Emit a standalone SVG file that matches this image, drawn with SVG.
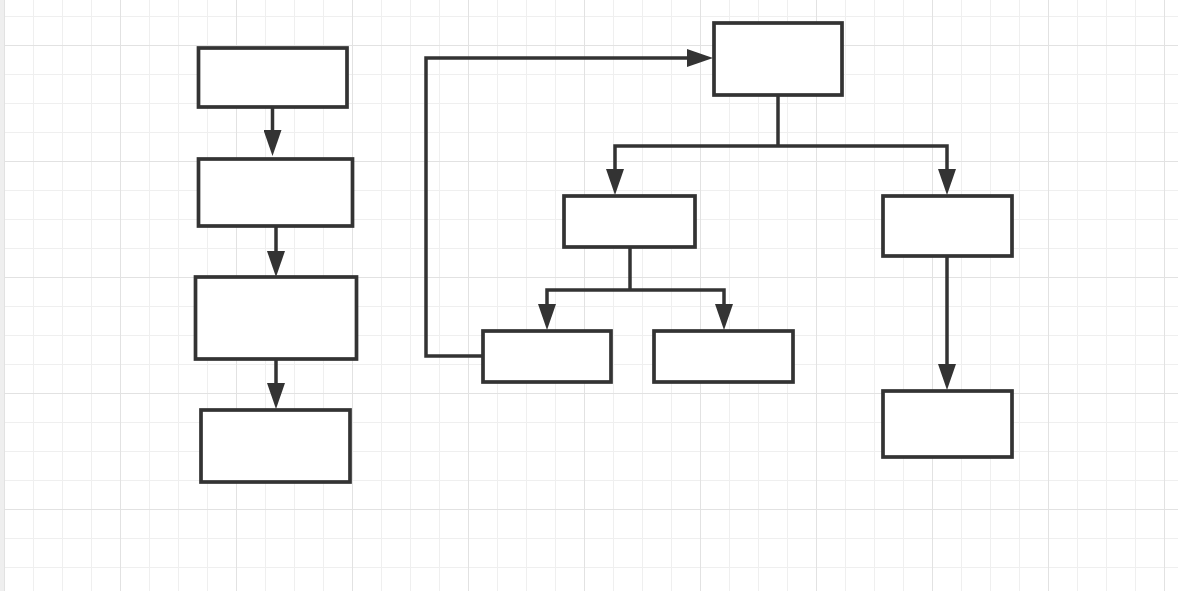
<svg xmlns="http://www.w3.org/2000/svg" width="1178" height="591" viewBox="0 0 1178 591">
<defs>
<pattern id="grid" x="4" y="45" width="116" height="116" patternUnits="userSpaceOnUse">
<path d="M29.5,0V116M58.5,0V116M87.5,0V116M0,29.5H116M0,58.5H116M0,87.5H116" fill="none" stroke="#efefef" stroke-width="1"/>
<path d="M0.5,0V116M0,0.5H116" fill="none" stroke="#e2e2e2" stroke-width="1"/>
</pattern>
<marker id="arr" viewBox="0 0 26 18" refX="16" refY="9" markerWidth="26" markerHeight="18" markerUnits="userSpaceOnUse" orient="auto">
<path d="M0,0L26,9L0,18z" fill="#333"/>
</marker>
<style>
.box{fill:#fff;stroke:#333;stroke-width:3.7}
.ln{fill:none;stroke:#333;stroke-width:3.5;stroke-linejoin:miter}
</style>
</defs>
<rect width="1178" height="591" fill="#fff"/>
<rect width="1178" height="591" fill="url(#grid)"/>
<rect x="0" y="0" width="4" height="591" fill="#efefef"/>
<g id="connectors">
<path class="ln" d="M272.5,107V146" marker-end="url(#arr)"/>
<path class="ln" d="M276,226V267" marker-end="url(#arr)"/>
<path class="ln" d="M276,359V399" marker-end="url(#arr)"/>
<path class="ln" d="M483,356H426V58H703" marker-end="url(#arr)"/>
<path class="ln" d="M778,95V146"/>
<path class="ln" d="M778,146H615V185" marker-end="url(#arr)"/>
<path class="ln" d="M778,146H947V185" marker-end="url(#arr)"/>
<path class="ln" d="M630,247V290"/>
<path class="ln" d="M630,290H547V320" marker-end="url(#arr)"/>
<path class="ln" d="M630,290H724V320" marker-end="url(#arr)"/>
<path class="ln" d="M947,256V380" marker-end="url(#arr)"/>
</g>
<g id="n1"><rect class="box" x="198.5" y="48" width="148.5" height="59"/></g>
<g id="n2"><rect class="box" x="198.5" y="159" width="154" height="67"/></g>
<g id="n3"><rect class="box" x="195.5" y="277" width="161" height="82"/></g>
<g id="n4"><rect class="box" x="201" y="410" width="149" height="72"/></g>
<g id="n5"><rect class="box" x="714" y="23" width="128" height="72"/></g>
<g id="n6"><rect class="box" x="564" y="196" width="131" height="51"/></g>
<g id="n7"><rect class="box" x="483" y="331" width="128" height="51"/></g>
<g id="n8"><rect class="box" x="654" y="331" width="139" height="51"/></g>
<g id="n9"><rect class="box" x="883" y="196" width="129" height="60"/></g>
<g id="n10"><rect class="box" x="883" y="391" width="129" height="66"/></g>
</svg>
